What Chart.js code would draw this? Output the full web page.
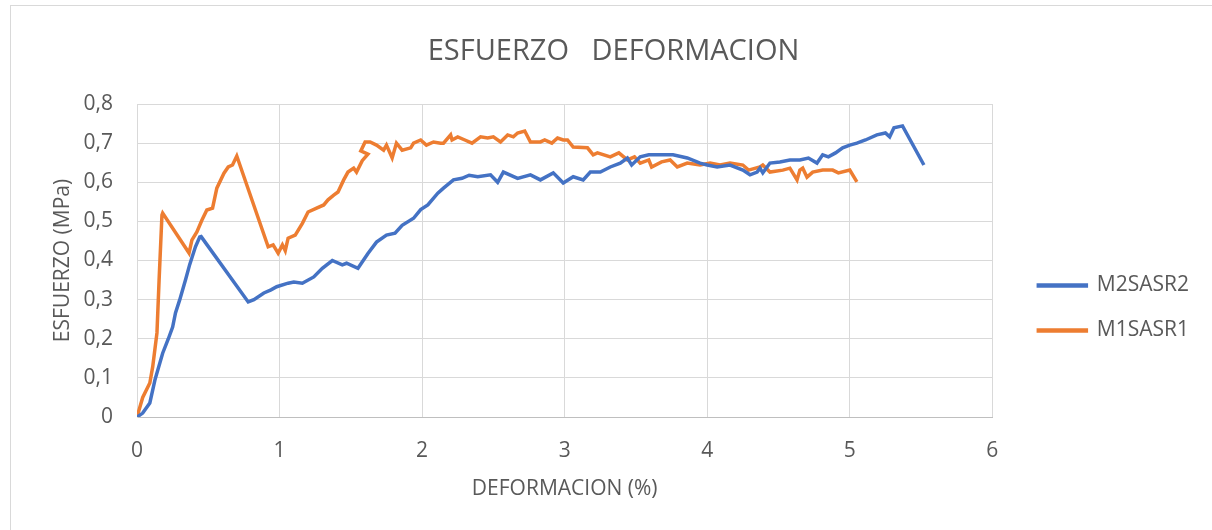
<!DOCTYPE html>
<html>
<head>
<meta charset="utf-8">
<script src="https://cdn.jsdelivr.net/npm/chart.js@4/dist/chart.umd.min.js"></script>
<style>
    body { margin: 0; background: #fff; overflow: hidden; }
    #wrap { position: relative; width: 1212px; height: 530px; }
    #frame { position: absolute; left: 10px; top: 5px; width: 1300px; height: 600px; border: 1px solid #d9d9d9; pointer-events: none; }
</style>
</head>
<body>
<div id="wrap">
    <canvas id="myChart" width="1212" height="530"></canvas>
    <div id="frame"></div>
</div>
<script>
// Datos: deformacion (%) y esfuerzo (MPa)
const strainM2 = [0, 0.04, 0.09, 0.126, 0.18, 0.22, 0.25, 0.27, 0.30, 0.34, 0.37, 0.41, 0.44, 0.45,
    0.78, 0.82, 0.89, 0.94, 0.98, 1.06, 1.10, 1.16, 1.24, 1.30, 1.37, 1.44, 1.47, 1.55, 1.62, 1.68,
    1.75, 1.81, 1.86, 1.94, 1.99, 2.04, 2.11, 2.15, 2.22, 2.28, 2.33, 2.39, 2.48, 2.53, 2.57, 2.67,
    2.76, 2.83, 2.92, 2.99, 3.06, 3.13, 3.18, 3.25, 3.32, 3.39, 3.44, 3.47, 3.53, 3.59, 3.67, 3.76,
    3.86, 3.95, 4.00, 4.07, 4.16, 4.25, 4.30, 4.35, 4.37, 4.39, 4.44, 4.51, 4.58, 4.65, 4.71, 4.77,
    4.81, 4.85, 4.90, 4.95, 5.00, 5.05, 5.11, 5.19, 5.25, 5.28, 5.31, 5.37, 5.52];
const stressM2 = [0, 0.01, 0.036, 0.095, 0.163, 0.20, 0.23, 0.266, 0.30, 0.35, 0.39, 0.435, 0.46, 0.461,
    0.294, 0.30, 0.317, 0.325, 0.333, 0.342, 0.345, 0.342, 0.358, 0.38, 0.40, 0.389, 0.393, 0.38, 0.418, 0.447,
    0.465, 0.47, 0.49, 0.508, 0.53, 0.542, 0.572, 0.585, 0.606, 0.61, 0.618, 0.614, 0.619, 0.60, 0.626, 0.61,
    0.619, 0.606, 0.624, 0.598, 0.614, 0.606, 0.626, 0.626, 0.639, 0.649, 0.662, 0.644, 0.665, 0.67, 0.67, 0.67,
    0.662, 0.649, 0.644, 0.639, 0.644, 0.631, 0.619, 0.626, 0.636, 0.624, 0.649, 0.652, 0.657, 0.657, 0.662, 0.649,
    0.67, 0.665, 0.675, 0.688, 0.695, 0.70, 0.708, 0.721, 0.726, 0.716, 0.739, 0.744, 0.644];

const strainM1 = [0, 0.04, 0.09, 0.11, 0.14, 0.155, 0.175, 0.18, 0.365, 0.385, 0.42, 0.455, 0.49, 0.53,
    0.56, 0.61, 0.64, 0.67, 0.70, 0.92, 0.955, 0.99, 1.02, 1.04, 1.06, 1.11, 1.16, 1.20, 1.26, 1.31,
    1.34, 1.38, 1.41, 1.45, 1.48, 1.52, 1.54, 1.58, 1.62, 1.57, 1.60, 1.635, 1.68, 1.73, 1.75, 1.79,
    1.82, 1.86, 1.92, 1.94, 1.99, 2.03, 2.08, 2.13, 2.15, 2.20, 2.21, 2.25, 2.30, 2.35, 2.41, 2.46,
    2.50, 2.55, 2.60, 2.64, 2.67, 2.72, 2.76, 2.83, 2.86, 2.91, 2.95, 2.99, 3.02, 3.06, 3.16, 3.20,
    3.23, 3.32, 3.38, 3.44, 3.49, 3.53, 3.59, 3.61, 3.68, 3.74, 3.79, 3.86, 3.95, 4.02, 4.09, 4.16,
    4.25, 4.29, 4.37, 4.39, 4.44, 4.53, 4.58, 4.63, 4.65, 4.67, 4.70, 4.74, 4.81, 4.88, 4.92, 5.00, 5.05];
const stressM1 = [0, 0.05, 0.087, 0.128, 0.215, 0.35, 0.516, 0.521, 0.419, 0.452, 0.473, 0.503, 0.529, 0.534,
    0.585, 0.623, 0.639, 0.644, 0.667, 0.435, 0.44, 0.419, 0.44, 0.425, 0.457, 0.465, 0.495, 0.524, 0.534, 0.542,
    0.555, 0.567, 0.575, 0.606, 0.626, 0.636, 0.626, 0.655, 0.672, 0.68, 0.703, 0.703, 0.695, 0.682, 0.695, 0.662,
    0.70, 0.682, 0.688, 0.70, 0.708, 0.695, 0.703, 0.70, 0.70, 0.721, 0.708, 0.716, 0.708, 0.70, 0.716, 0.713,
    0.716, 0.703, 0.721, 0.716, 0.726, 0.731, 0.703, 0.703, 0.708, 0.70, 0.713, 0.708, 0.708, 0.69, 0.688, 0.67,
    0.675, 0.665, 0.675, 0.657, 0.665, 0.649, 0.657, 0.639, 0.652, 0.657, 0.639, 0.649, 0.644, 0.649, 0.644, 0.649,
    0.644, 0.631, 0.639, 0.644, 0.626, 0.631, 0.636, 0.606, 0.631, 0.636, 0.613, 0.626, 0.631, 0.631, 0.624, 0.631, 0.601];

const seriesNames = ['M2SASR2', 'M1SASR1'];
const xTicks = [0, 1, 2, 3, 4, 5, 6];
const yTicks = [0, 0.1, 0.2, 0.3, 0.4, 0.5, 0.6, 0.7, 0.8];

const textColor = '#595959';
const fontFamily = '"Open Sans", sans-serif';

function toPoints(xs, ys) {
    return xs.map((x, i) => ({ x: x, y: ys[i] }));
}

// Desplaza la leyenda para dejarla como en el original
const legendShift = {
    id: 'legendShift',
    afterLayout(chart) {
        const lg = chart.legend;
        lg.left += 22; lg.right += 22;
        lg.top += 57; lg.bottom += 57;
    }
};

const ctx = document.getElementById('myChart').getContext('2d');
const myChart = new Chart(ctx, {
    type: 'scatter',
    data: {
        datasets: [{
            label: seriesNames[0],
            data: toPoints(strainM2, stressM2),
            borderColor: '#4472C4',
            backgroundColor: '#4472C4',
            borderWidth: 3.5,
            showLine: true,
            pointRadius: 0,
            tension: 0
        }, {
            label: seriesNames[1],
            data: toPoints(strainM1, stressM1),
            borderColor: '#ED7D31',
            backgroundColor: '#ED7D31',
            borderWidth: 3.5,
            showLine: true,
            pointRadius: 0,
            tension: 0
        }]
    },
    options: {
        responsive: false,
        animation: false,
        devicePixelRatio: 1,
        layout: { padding: { left: 50, right: 35, top: 0, bottom: 28 } },
        plugins: {
            title: {
                display: true,
                text: 'ESFUERZO   DEFORMACION',
                color: textColor,
                font: { family: fontFamily, size: 29, weight: 'normal' },
                padding: { top: 34.6, bottom: 34.6 }
            },
            legend: {
                position: 'right',
                labels: {
                    color: textColor,
                    font: { family: fontFamily, size: 21 },
                    boxWidth: 48,
                    boxHeight: 1,
                    padding: 24
                }
            },
            tooltip: { enabled: false }
        },
        scales: {
            x: {
                type: 'linear',
                min: 0,
                max: 6,
                afterBuildTicks: axis => { axis.ticks = xTicks.map(v => ({ value: v })); },
                afterFit: scale => { scale.height = 85; },
                ticks: {
                    color: textColor,
                    font: { family: fontFamily, size: 21 },
                    padding: 21
                },
                grid: { color: '#d9d9d9', drawTicks: false },
                border: { color: '#bfbfbf' },
                title: {
                    display: true,
                    text: 'DEFORMACION (%)',
                    color: textColor,
                    font: { family: fontFamily, size: 21 },
                    padding: { top: 10, bottom: 0 }
                }
            },
            y: {
                min: 0,
                max: 0.8,
                afterBuildTicks: axis => { axis.ticks = yTicks.map(v => ({ value: v })); },
                afterFit: scale => { scale.width = 87; },
                ticks: {
                    color: textColor,
                    font: { family: fontFamily, size: 21 },
                    padding: 24,
                    callback: v => v === 0 ? '0' : v.toFixed(1).replace('.', ',')
                },
                grid: { color: '#d9d9d9', drawTicks: false },
                border: { color: '#d9d9d9' },
                title: {
                    display: true,
                    text: 'ESFUERZO (MPa)',
                    color: textColor,
                    font: { family: fontFamily, size: 21 },
                    padding: { top: 0, bottom: 10 }
                }
            }
        }
    },
    plugins: [legendShift]
});
</script>
</body>
</html>
